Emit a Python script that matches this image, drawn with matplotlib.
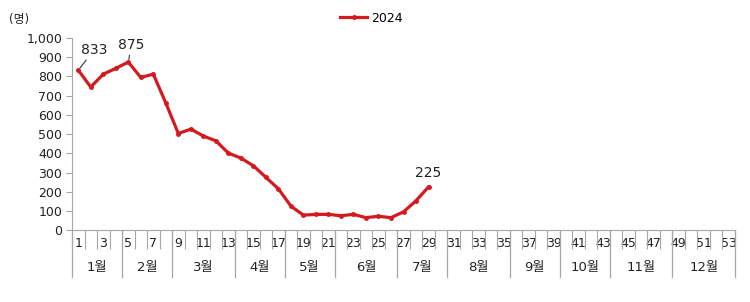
import matplotlib
matplotlib.use("Agg")
import matplotlib.pyplot as plt
import matplotlib.transforms as mtransforms
from matplotlib.lines import Line2D

plt.rcParams['font.family'] = ['DejaVu Sans', 'Noto Sans CJK KR']

# weekly counts, 2024 (weeks 1..29)
weeks = list(range(1, 30))
values = [833, 745, 812, 842, 875, 795, 812, 662, 503, 526, 490, 465, 401, 375, 335,
          275, 215, 125, 78, 82, 82, 75, 82, 65, 72, 65, 95, 153, 225]
n_weeks = 53
month_names = ['1월', '2월', '3월', '4월', '5월', '6월', '7월', '8월', '9월', '10월', '11월', '12월']
month_last_week = [4, 8, 13, 17, 21, 26, 30, 35, 39, 43, 48, 53]

RED = '#d41a1f'
GRID = '#a6a6a6'
TXT = '#222222'

fig = plt.figure(figsize=(7.5, 3.02), dpi=100)
ax = fig.add_axes([0.096, 0.238, 0.884, 0.636])

ax.plot(weeks, values, color=RED, lw=2.3, marker='o', ms=2.5, label='2024',
        solid_joinstyle='round', zorder=3)

ax.set_xlim(0.5, n_weeks + 0.5)
ax.set_ylim(0, 1000)
ax.set_yticks(range(0, 1001, 100))
ax.set_yticklabels([f'{v:,}' for v in range(0, 1001, 100)], fontsize=9, color=TXT)
ax.tick_params(axis='y', length=4, color=GRID, pad=3)

for s in ['top', 'right']:
    ax.spines[s].set_visible(False)
ax.spines['left'].set_color(GRID)
ax.spines['bottom'].set_color(GRID)

# first tier: week numbers between boundary ticks
ax.set_xticks(range(1, n_weeks + 1, 2))
ax.set_xticklabels([str(w) for w in range(1, n_weeks + 1, 2)], fontsize=9, color=TXT)
ax.tick_params(axis='x', which='major', length=0, pad=5)
ax.set_xticks([w + 0.5 for w in range(0, n_weeks + 1)], minor=True)
ax.tick_params(axis='x', which='minor', length=14, color=GRID, width=0.8)

# second tier: month separators and names
trans = mtransforms.blended_transform_factory(ax.transData, ax.transAxes)
bounds = [0] + month_last_week
for b in bounds:
    ax.add_line(Line2D([b + 0.5, b + 0.5], [0, -0.245], transform=trans,
                       color=GRID, lw=0.9, clip_on=False))
for i, name in enumerate(month_names):
    mid = (bounds[i] + bounds[i + 1]) / 2 + 0.5
    ax.text(mid, -0.193, name, transform=trans, ha='center', va='center',
            fontsize=9.5, color=TXT)

# data labels with leader lines
ax.annotate('833', xy=(1, 833), xytext=(1.2, 900), fontsize=10, color=TXT,
            ha='left', va='bottom',
            arrowprops=dict(arrowstyle='-', color='#333333', lw=0.8, shrinkA=0, shrinkB=2))
ax.annotate('875', xy=(5, 875), xytext=(4.2, 925), fontsize=10, color=TXT,
            ha='left', va='bottom',
            arrowprops=dict(arrowstyle='-', color='#333333', lw=0.8, shrinkA=0, shrinkB=2))
ax.annotate('225', xy=(29, 225), xytext=(29.0, 262), fontsize=10, color=TXT,
            ha='center', va='bottom')

fig.text(0.012, 0.935, '(명)', fontsize=8.5, color=TXT, ha='left', va='center')
fig.legend(loc='center', bbox_to_anchor=(0.495, 0.94), frameon=False, fontsize=9,
           handlelength=2.2, handletextpad=0.3)

fig.savefig('out.png', dpi=100, facecolor='white')
